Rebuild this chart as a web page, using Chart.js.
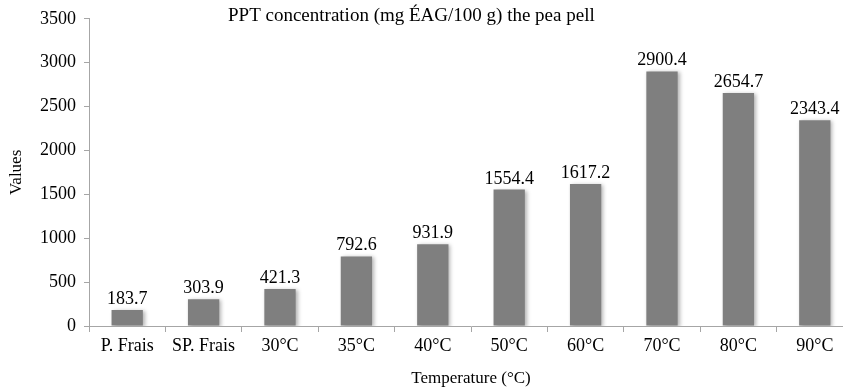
<!DOCTYPE html>
<html>
<head>
<meta charset="utf-8">
<script src="https://cdn.jsdelivr.net/npm/chart.js@4.4.0/dist/chart.umd.min.js"></script>
<style>
  html, body { margin: 0; padding: 0; background: #fff; overflow: hidden; }
  #wrap { width: 853px; height: 389px; position: relative; }
</style>
</head>
<body>
<div id="wrap"><canvas id="barChart"></canvas></div>
<script>
// data
const categories = ["P. Frais", "SP. Frais", "30°C", "35°C", "40°C", "50°C", "60°C", "70°C", "80°C", "90°C"];
const ppt = [183.7, 303.9, 421.3, 792.6, 931.9, 1554.4, 1617.2, 2900.4, 2654.7, 2343.4];
const yTicks = [0, 500, 1000, 1500, 2000, 2500, 3000, 3500];
const chartTitle = "PPT concentration (mg ÉAG/100 g) the pea pell";

const serif = "'Liberation Serif', 'Times New Roman', serif";
Chart.defaults.font.family = serif;
Chart.defaults.color = "#000";

// shadow on bars, value labels above them, title inside the plot
const labelPlugin = {
  id: "valueLabels",
  beforeDatasetsDraw(chart) {
    const ctx = chart.ctx;
    ctx.save();
    ctx.shadowColor = "rgba(0,0,0,0.3)";
    ctx.shadowBlur = 4;
    ctx.shadowOffsetX = 2;
    ctx.shadowOffsetY = 1;
  },
  afterDatasetsDraw(chart) {
    const ctx = chart.ctx;
    ctx.restore();
    ctx.save();
    ctx.font = "18px " + serif;
    ctx.fillStyle = "#000";
    ctx.textAlign = "center";
    ctx.textBaseline = "alphabetic";
    const meta = chart.getDatasetMeta(0);
    meta.data.forEach((bar, i) => {
      ctx.fillText(ppt[i].toFixed(1), bar.x, bar.y - 6);
    });
    ctx.font = "19px " + serif;
    ctx.textAlign = "left";
    ctx.fillText(chartTitle, 228, 21);
    ctx.restore();
  },
};

const chartData = {
  labels: categories,
  datasets: [
    {
      label: "PPT",
      data: ppt,
      backgroundColor: "#7f7f7f",
      barPercentage: 0.41,
      categoryPercentage: 1.0,
    },
  ],
};

const chartConfig = {
  type: "bar",
  data: chartData,
  options: {
    responsive: true,
    maintainAspectRatio: false,
    animation: false,
    layout: { padding: { left: 0, right: 0, top: 17, bottom: 0 } },
    scales: {
      x: {
        afterFit: (axis) => { axis.height = 63; },
        grid: {
          offset: true,
          drawOnChartArea: false,
          color: "#a6a6a6",
          tickLength: 6,
        },
        border: { color: "#a6a6a6" },
        ticks: { font: { size: 18 }, padding: 3, maxRotation: 0 },
        title: { display: true, text: "Temperature (°C)", font: { size: 17 }, padding: { top: 5, bottom: 0 } },
      },
      y: {
        min: 0,
        max: 3500,
        afterFit: (axis) => { axis.width = 89; },
        afterBuildTicks: (axis) => { axis.ticks = yTicks.map((v) => ({ value: v })); },
        grid: { drawOnChartArea: false, color: "#a6a6a6", tickLength: 5 },
        border: { color: "#a6a6a6" },
        ticks: { font: { size: 18 }, padding: 8, callback: (v) => String(v) },
        title: { display: true, text: "Values", font: { size: 17 }, padding: { top: 6, bottom: 0 } },
      },
    },
    plugins: {
      legend: { display: false },
      tooltip: { enabled: false },
    },
  },
  plugins: [labelPlugin],
};

// init
const barChart = new Chart(document.getElementById("barChart"), chartConfig);
</script>
</body>
</html>
